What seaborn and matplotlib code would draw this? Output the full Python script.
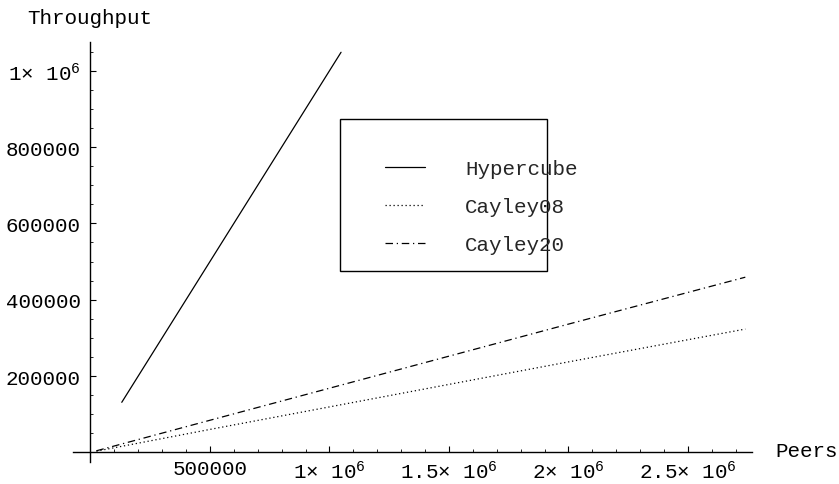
import matplotlib
matplotlib.use("Agg")
import matplotlib.pyplot as plt
import seaborn as sns
import pandas as pd
from matplotlib.ticker import FixedLocator, FuncFormatter
from matplotlib.patches import Rectangle

# Throughput versus number of peers
hypercube_peers = [131072, 262144, 524288, 1048576]
hypercube_throughput = [131072, 262144, 524288, 1048576]

cayley_peers = [25000, 500000, 1000000, 1500000, 2000000, 2740000]
cayley08_throughput = [3000, 60000, 119000, 178000, 237000, 323000]
cayley20_throughput = [4000, 84000, 168000, 252000, 336000, 459000]

series_names = ["Hypercube", "Cayley08", "Cayley20"]

x_major = [500000, 1000000, 1500000, 2000000, 2500000]
y_major = [200000, 400000, 600000, 800000, 1000000]

FS = 15

sns.set_theme(style="white")
plt.rcParams["font.family"] = ["Liberation Mono", "DejaVu Sans"]
plt.rcParams["mathtext.fontset"] = "custom"
plt.rcParams["mathtext.rm"] = "Liberation Mono"
plt.rcParams["mathtext.it"] = "Liberation Mono"

df = pd.concat([
    pd.DataFrame({"Peers": hypercube_peers, "Throughput": hypercube_throughput,
                  "series": series_names[0]}),
    pd.DataFrame({"Peers": cayley_peers, "Throughput": cayley08_throughput,
                  "series": series_names[1]}),
    pd.DataFrame({"Peers": cayley_peers, "Throughput": cayley20_throughput,
                  "series": series_names[2]}),
])

fig = plt.figure(figsize=(8.39, 4.85), dpi=100)
ax = fig.add_axes([73 / 839, 1 - 463 / 485, (752 - 73) / 839, (463 - 43) / 485])

styles = {"Hypercube": "-", "Cayley08": (0, (1, 2.2)), "Cayley20": (0, (6, 3, 1, 3))}
handles = []
for name in series_names:
    sub = df[df["series"] == name]
    sns.lineplot(data=sub, x="Peers", y="Throughput", ax=ax, color="black",
                 linewidth=0.9, linestyle=styles[name], sort=False,
                 estimator=None, legend=False)
    handles.append(ax.get_lines()[-1])

ax.set_xlim(-73000, 2768000)
ax.set_ylim(-25400, 1075500)

for side in ("top", "right"):
    ax.spines[side].set_visible(False)
ax.spines["left"].set_position(("data", 0))
ax.spines["bottom"].set_position(("data", 0))
for side in ("left", "bottom"):
    ax.spines[side].set_color("black")
    ax.spines[side].set_linewidth(1.0)


def sci_label(v, pos=None):
    if v >= 1000000:
        return "%g\u00d7 10$^{6}$" % (v / 1000000)
    return "%d" % v


ax.xaxis.set_major_locator(FixedLocator(x_major))
ax.xaxis.set_minor_locator(FixedLocator([v * 100000 for v in range(1, 28) if v % 5]))
ax.yaxis.set_major_locator(FixedLocator(y_major))
ax.yaxis.set_minor_locator(FixedLocator([v * 50000 for v in range(1, 22) if v % 4]))
ax.xaxis.set_major_formatter(FuncFormatter(sci_label))
ax.yaxis.set_major_formatter(FuncFormatter(sci_label))

ax.tick_params(axis="both", which="major", direction="in", length=4, width=0.8,
               color="black", labelsize=FS, labelcolor="black")
ax.tick_params(axis="both", which="minor", direction="in", length=2.2, width=0.6,
               color="black")
ax.tick_params(axis="x", which="major", pad=5)
ax.tick_params(axis="y", which="major", pad=7)
ax.tick_params(bottom=True, left=True, which="both")
ax.set_xlabel("")
ax.set_ylabel("")

fig.text(27 / 839, 1 - 18 / 485, "Throughput", ha="left", va="center",
         fontsize=FS, color="black")
fig.text(775 / 839, 1 - 452 / 485, "Peers", ha="left", va="center",
         fontsize=FS, color="black")

# legend box
fig.patches.append(Rectangle((340 / 839, 1 - 272 / 485), 207 / 839, 152 / 485,
                             transform=fig.transFigure, fill=True,
                             facecolor="white", edgecolor="black", linewidth=1.0,
                             zorder=5))
leg = fig.legend(handles, series_names, loc="upper left",
                 bbox_to_anchor=(385 / 839, 1 - 160 / 485),
                 frameon=False, fontsize=FS, handlelength=1.92,
                 handletextpad=1.92, labelspacing=0.92, borderaxespad=0,
                 borderpad=0)
leg.set_zorder(6)

fig.savefig("out.png", dpi=100, facecolor="white")
